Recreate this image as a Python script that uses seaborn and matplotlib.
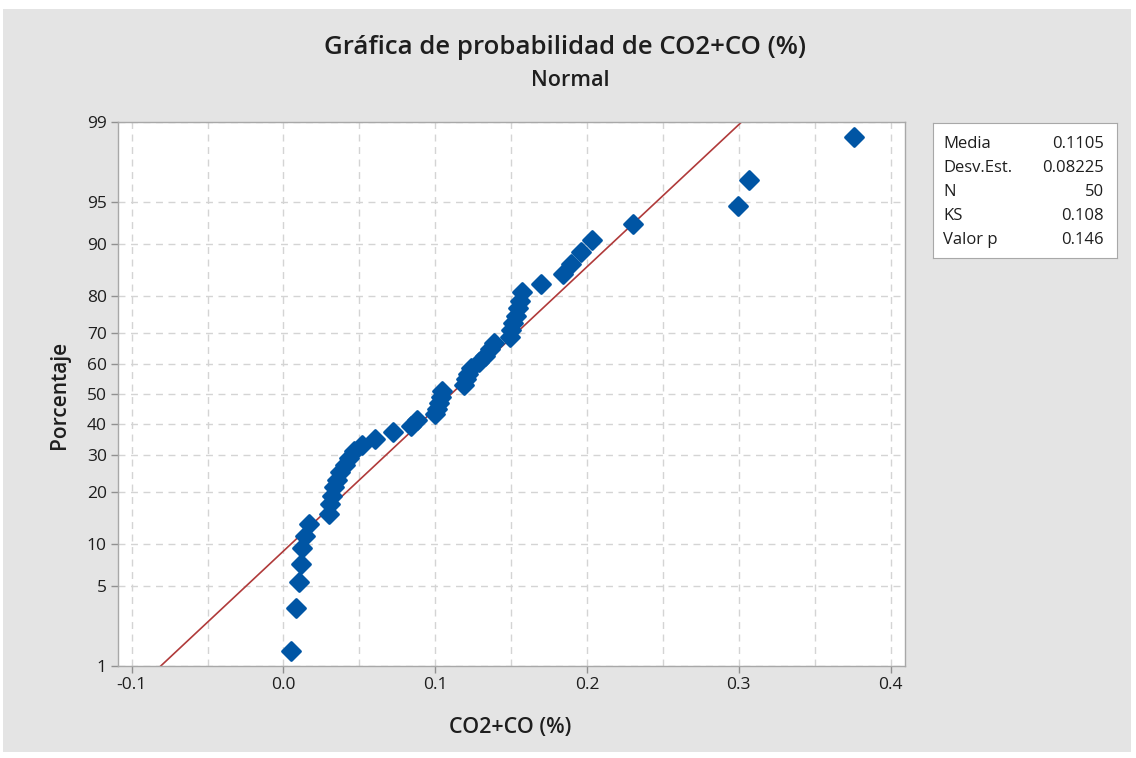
import matplotlib
matplotlib.use("Agg")
import matplotlib.pyplot as plt
import seaborn as sns
import pandas as pd
from statistics import NormalDist
from matplotlib.patches import Rectangle
from matplotlib.ticker import FixedLocator, MultipleLocator

# valores (CO2+CO %), ordenados
co2_co = [0.0050, 0.0080, 0.0100, 0.0117, 0.0124, 0.0145, 0.0167,
          0.0297, 0.0304, 0.0321, 0.0330, 0.0350, 0.0370, 0.0403, 0.0429,
          0.0468, 0.0515, 0.0600, 0.0719, 0.0838, 0.0877, 0.0996, 0.1009,
          0.1022, 0.1035, 0.1045, 0.1187, 0.1200, 0.1213, 0.1233, 0.1286,
          0.1325, 0.1358, 0.1385, 0.1490, 0.1497, 0.1510, 0.1530, 0.1543,
          0.1556, 0.1569, 0.1695, 0.1844, 0.1896, 0.1958, 0.2031, 0.2304,
          0.2998, 0.3064, 0.3760]
pct_ticks = [1, 5, 10, 20, 30, 40, 50, 60, 70, 80, 90, 95, 99]
x_ticks = [-0.1, 0.0, 0.1, 0.2, 0.3, 0.4]
stat_names = ["Media", "Desv.Est.", "N", "KS", "Valor p"]
stat_values = ["0.1105", "0.08225", "50", "0.108", "0.146"]
media = 0.1105
desv = 0.08225

nd = NormalDist()
n = len(co2_co)
# posiciones de rango mediano (Benard), como Minitab
z = [nd.inv_cdf((i - 0.3) / (n + 0.4)) for i in range(1, n + 1)]
df = pd.DataFrame({"x": co2_co, "z": z})

# linea ajustada de la normal
z_line = [-3.0, 3.0]
x_line = [media + desv * zz for zz in z_line]

sns.set_style("white")
plt.rcParams["font.family"] = ["Open Sans", "DejaVu Sans"]
txt = "#1e1e1e"

W, H = 1136, 758
fig = plt.figure(figsize=(W / 100, H / 100), dpi=100, facecolor="white")
fig.patches.append(Rectangle((3 / W, 6 / H), 1128 / W, 743 / H, transform=fig.transFigure,
                             facecolor="#e4e4e4", edgecolor="none", zorder=-10))

ax = fig.add_axes([118 / W, 1 - 666 / H, 787 / W, 544 / H])
ax.set_facecolor("white")

sns.lineplot(x=x_line, y=z_line, ax=ax, color="#b03a3a", lw=1.2, sort=False)
sns.scatterplot(data=df, x="x", y="z", ax=ax, marker="D", s=85, color="#0055a4",
                edgecolor="#0055a4", linewidth=2.0, zorder=3)

ax.set_xlim(-0.109, 0.4095)
ax.set_ylim(nd.inv_cdf(0.01), nd.inv_cdf(0.99))

ax.xaxis.set_major_locator(FixedLocator(x_ticks))
ax.set_xticklabels([f"{t:.1f}" for t in x_ticks])
ax.xaxis.set_minor_locator(MultipleLocator(0.05))
zt = [nd.inv_cdf(p / 100) for p in pct_ticks]
ax.yaxis.set_major_locator(FixedLocator(zt))
ax.set_yticklabels([str(p) for p in pct_ticks])

ax.grid(True, which="both", axis="x", color="#d4d4d4", ls=(0, (5, 4)), lw=1)
ax.grid(True, which="major", axis="y", color="#d4d4d4", ls=(0, (5, 4)), lw=1)
ax.tick_params(axis="both", which="major", length=5, width=1, color="#909090",
               labelsize=12.5, labelcolor=txt, direction="out", pad=3)
ax.tick_params(axis="x", which="minor", length=0)
ax.tick_params(bottom=True, left=True)
for s in ax.spines.values():
    s.set_color("#a8a8a8")
    s.set_linewidth(1)
ax.set_xlabel("")
ax.set_ylabel("")

fig.text(0.497, 1 - 48 / H, "Gráfica de probabilidad de CO2+CO (%)", ha="center", va="center",
         fontsize=18.5, fontweight="semibold", color=txt)
fig.text(0.502, 1 - 80 / H, "Normal", ha="center", va="center", fontsize=15.5,
         fontweight="semibold", color=txt)
fig.text(60 / W, 1 - 395 / H, "Porcentaje", rotation=90, ha="center", va="center",
         fontsize=15, fontweight="semibold", color=txt)
fig.text(510 / W, 1 - 727 / H, "CO2+CO (%)", ha="center", va="center", fontsize=15.5,
         fontweight="semibold", color=txt)

# cuadro de estadisticos
box = fig.add_axes([933 / W, 1 - 258 / H, 184 / W, 135 / H])
box.set_facecolor("white")
box.set_xticks([])
box.set_yticks([])
for s in box.spines.values():
    s.set_color("#a8a8a8")
for k, (name, val) in enumerate(zip(stat_names, stat_values)):
    yy = 1 - (144 + 24 * k) / H
    fig.text(943 / W, yy, name, ha="left", va="center", fontsize=12, color=txt)
    fig.text(1104 / W, yy, val, ha="right", va="center", fontsize=12, color=txt)

fig.savefig("out.png", dpi=100, facecolor=fig.get_facecolor())
